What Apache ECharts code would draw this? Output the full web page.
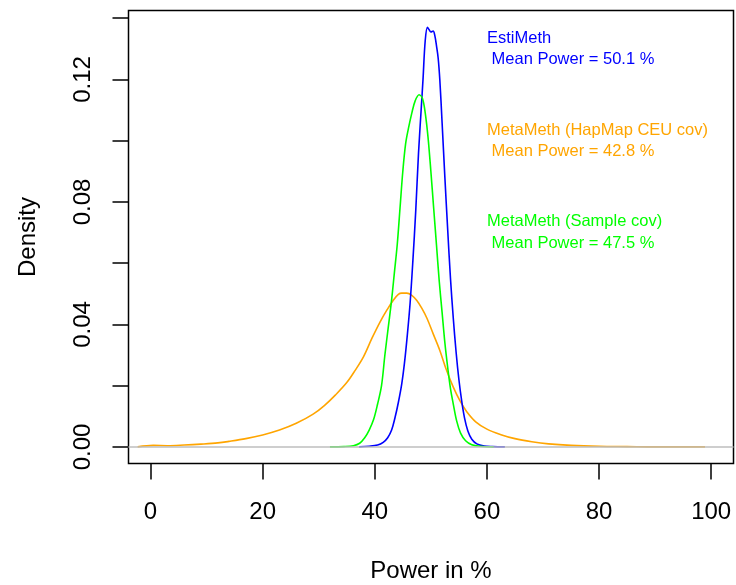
<!DOCTYPE html>
<html>
<head>
<meta charset="utf-8">
<script src="https://cdn.jsdelivr.net/npm/echarts@6/dist/echarts.min.js"></script>
<style>
html,body{margin:0;padding:0;background:#fff;}
#chart{width:736px;height:585px;}
</style>
</head>
<body>
<div id="chart"></div>
<script>
// ---- data ----
var estiMeth = [
  [37.2,0.0000],[39.0,0.0002],[40.5,0.0006],[41.5,0.0015],[42.3,0.0030],[43.0,0.0055],
  [43.6,0.0095],[44.2,0.0145],[44.8,0.0205],[45.3,0.0275],[45.8,0.0365],[46.3,0.0470],
  [46.8,0.0610],[47.3,0.0770],[47.8,0.0960],[48.3,0.1110],[48.6,0.1200],[49.0,0.1328],
  [49.4,0.1370],[49.7,0.1362],[50.0,0.1355],[50.4,0.1358],[50.7,0.1344],[51.0,0.1310],
  [51.3,0.1270],[51.6,0.1198],[52.0,0.1060],[52.5,0.0880],[53.0,0.0710],[53.5,0.0550],
  [54.0,0.0420],[54.5,0.0310],[55.0,0.0220],[55.5,0.0150],[56.0,0.0095],[56.6,0.0052],
  [57.3,0.0025],[58.2,0.0010],[59.5,0.0003],[61.0,0.0001],[63.2,0.0000]
];
var metaHapMap = [
  [-2.3,0.0000],[0.5,0.0005],[3.0,0.0004],[6.0,0.0006],[9.0,0.0009],[12.0,0.0013],
  [14.0,0.0018],[17.0,0.0027],[20.0,0.0039],[23.0,0.0055],[26.0,0.0077],[29.0,0.0107],
  [31.0,0.0135],[33.0,0.0170],[35.0,0.0210],[36.5,0.0250],[38.0,0.0295],[39.5,0.0355],
  [41.0,0.0410],[42.2,0.0448],[43.3,0.0479],[44.2,0.0498],[44.8,0.0502],[45.7,0.0502],
  [46.6,0.0495],[47.5,0.0478],[48.4,0.0452],[49.3,0.0420],[50.4,0.0370],[51.6,0.0315],
  [52.8,0.0250],[54.0,0.0195],[55.2,0.0150],[56.4,0.0115],[58.0,0.0082],[60.0,0.0058],
  [62.5,0.0040],[65.0,0.0027],[68.0,0.0017],[71.0,0.0010],[75.0,0.0005],[80.0,0.0002],
  [85.0,0.0001],[90.0,0.0000],[95.0,0.0000],[98.9,0.0000]
];
var metaSample = [
  [32.0,0.0000],[34.5,0.0001],[36.2,0.0004],[37.3,0.0012],[38.2,0.0030],[39.0,0.0055],
  [39.8,0.0090],[40.5,0.0140],[41.2,0.0200],[41.8,0.0300],[42.4,0.0390],[43.0,0.0480],
  [43.5,0.0570],[44.0,0.0660],[44.5,0.0780],[45.0,0.0900],[45.5,0.0990],[46.0,0.1040],
  [46.6,0.1090],[47.2,0.1130],[47.9,0.1150],[48.5,0.1138],[49.0,0.1090],[49.5,0.1010],
  [50.0,0.0900],[50.5,0.0780],[51.0,0.0660],[51.5,0.0540],[52.0,0.0440],[52.5,0.0340],
  [53.0,0.0260],[53.5,0.0190],[54.0,0.0140],[54.6,0.0085],[55.3,0.0045],[56.2,0.0020],
  [57.3,0.0007],[58.8,0.0002],[61.2,0.0000]
];
var xTicks = [0, 20, 40, 60, 80, 100];
var yTicks = [0, 0.02, 0.04, 0.06, 0.08, 0.10, 0.12, 0.14];
var yTickLabels = [0, 0.04, 0.08, 0.12];
var annotations = [
  {lines: ['EstiMeth', ' Mean Power = 50.1 %'], color: '#0000FF'},
  {lines: ['MetaMeth (HapMap CEU cov)', ' Mean Power = 42.8 %'], color: '#FFA500'},
  {lines: ['MetaMeth (Sample cov)', ' Mean Power = 47.5 %'], color: '#00FF00'}
];
var xTitle = 'Power in %';
var yTitle = 'Density';

// ---- chart ----
var FONT = '"Liberation Sans", Arial, Helvetica, sans-serif';
var chart = echarts.init(document.getElementById('chart'), null, {renderer: 'canvas'});

var annY = [38.5, 130.5, 222];
var graphics = [];
annotations.forEach(function (a, i) {
  a.lines.forEach(function (t, j) {
    graphics.push({
      type: 'text', left: 487, top: annY[i] + j * 21.5 - 9,
      style: {text: t, fill: a.color, font: '16.5px ' + FONT}
    });
  });
});

function lineSeries(name, data, color, z) {
  return {
    type: 'line', name: name, data: data, showSymbol: false, symbol: 'none',
    smooth: 0.35, z: z,
    lineStyle: {color: color, width: 1.6}, silent: true
  };
}

chart.setOption({
  animation: false,
  backgroundColor: '#fff',
  grid: {left: 128.5, top: 10.5, width: 605, height: 453, show: true,
         outerBoundsMode: 'none', containLabel: false,
         borderColor: '#000', borderWidth: 1.5, backgroundColor: 'transparent'},
  xAxis: {
    type: 'value', min: -3.93, max: 103.98,
    name: xTitle, nameLocation: 'middle', nameGap: 96,
    nameTextStyle: {fontSize: 24, color: '#000', fontFamily: FONT},
    axisLine: {show: false, onZero: false},
    splitLine: {show: false},
    axisTick: {show: true, customValues: xTicks, length: 16, inside: false,
               lineStyle: {color: '#000', width: 1.5}},
    axisLabel: {customValues: xTicks, fontSize: 24, color: '#000', fontFamily: FONT, margin: 37}
  },
  yAxis: {
    type: 'value', min: -0.00542, max: 0.1425,
    name: yTitle, nameLocation: 'middle', nameGap: 88, nameRotate: 90,
    nameTextStyle: {fontSize: 24, color: '#000', fontFamily: FONT},
    axisLine: {show: false, onZero: false},
    splitLine: {show: false},
    axisTick: {show: true, customValues: yTicks, length: 16, inside: false,
               lineStyle: {color: '#000', width: 1.5}},
    axisLabel: {customValues: yTickLabels, rotate: 90, fontSize: 24, color: '#000',
                fontFamily: FONT, margin: 33,
                formatter: function (v) { return v.toFixed(2); }}
  },
  graphic: graphics,
  series: [
    {type: 'line', data: [], z: 1, silent: true,
     markLine: {silent: true, symbol: ['none', 'none'], label: {show: false},
                lineStyle: {color: '#BEBEBE', width: 1.5, type: 'solid'},
                data: [{yAxis: 0}]}},
    lineSeries('MetaMeth (HapMap CEU cov)', metaHapMap, '#FFA500', 2),
    lineSeries('EstiMeth', estiMeth, '#0000FF', 3),
    lineSeries('MetaMeth (Sample cov)', metaSample, '#00FF00', 4)
  ]
});
</script>
</body>
</html>
